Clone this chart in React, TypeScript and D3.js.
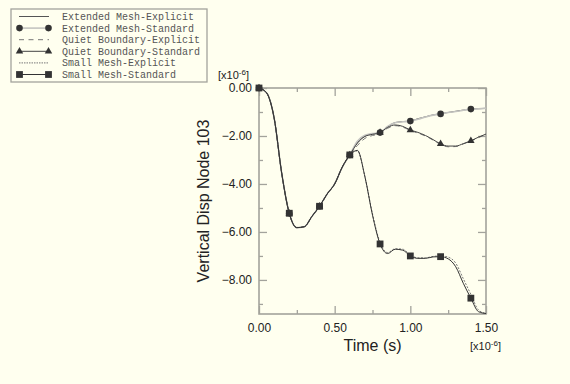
import { useEffect, useRef } from "react";
import * as d3 from "d3";

// time in units of 1e-6 s
const times = [
  0, 0.05, 0.1, 0.15, 0.2, 0.25, 0.3, 0.35, 0.4, 0.45, 0.5, 0.55, 0.6, 0.65, 0.7, 0.75,
  0.8, 0.85, 0.9, 0.95, 1.0, 1.05, 1.1, 1.15, 1.2, 1.25, 1.3, 1.35, 1.4, 1.45, 1.5,
];

// vertical displacement, units of 1e-6
const extendedExplicit = [
  0, -0.2, -1.25, -3.55, -5.22, -5.82, -5.78, -5.35, -4.93, -4.42, -4.0, -3.3, -2.79,
  -2.28, -2.0, -1.92, -1.86, -1.62, -1.44, -1.4, -1.375, -1.28, -1.2, -1.12, -1.07,
  -1.02, -0.97, -0.92, -0.875, -0.86, -0.85,
];
const extendedStandard = [
  0, -0.2, -1.25, -3.55, -5.22, -5.82, -5.78, -5.35, -4.93, -4.42, -4.0, -3.3, -2.79,
  -2.22, -1.97, -1.9, -1.86, -1.6, -1.45, -1.41, -1.38, -1.3, -1.21, -1.13, -1.08,
  -1.02, -0.98, -0.93, -0.88, -0.87, -0.84,
];
const quietExplicit = [
  0, -0.2, -1.25, -3.55, -5.22, -5.82, -5.78, -5.35, -4.93, -4.42, -4.0, -3.3, -2.79,
  -2.4, -2.1, -1.98, -1.9, -1.68, -1.57, -1.63, -1.77, -1.88, -2.0, -2.17, -2.35,
  -2.45, -2.44, -2.33, -2.22, -2.07, -1.93,
];
const quietStandard = [
  0, -0.2, -1.25, -3.55, -5.22, -5.82, -5.78, -5.35, -4.93, -4.42, -4.0, -3.3, -2.79,
  -2.3, -2.02, -1.93, -1.86, -1.64, -1.54, -1.6, -1.75, -1.85, -1.98, -2.15, -2.33,
  -2.42, -2.42, -2.32, -2.2, -2.05, -1.92,
];
const smallExplicit = [
  0, -0.2, -1.25, -3.55, -5.22, -5.82, -5.78, -5.35, -4.93, -4.42, -4.0, -3.3, -2.79,
  -2.62, -3.7, -5.25, -6.45, -6.86, -6.7, -6.72, -6.96, -7.08, -7.08, -7.02, -7.0,
  -7.05, -7.3, -7.95, -8.6, -9.25, -9.4,
];
const smallStandard = [
  0, -0.2, -1.25, -3.55, -5.22, -5.82, -5.78, -5.35, -4.93, -4.42, -4.0, -3.3, -2.79,
  -2.6, -3.7, -5.3, -6.5, -6.9, -6.72, -6.76, -7.0, -7.1, -7.1, -7.04, -7.03,
  -7.12, -7.45, -8.14, -8.76, -9.32, -9.4,
];

// markers sit on every 0.2
const markerTimes = [0, 0.2, 0.4, 0.6, 0.8, 1.0, 1.2, 1.4];

const xTicks = [0, 0.5, 1.0, 1.5];
const xMinorTicks = [0.25, 0.75, 1.25];
const yTicks = [0, -2, -4, -6, -8];
const yMinorTicks = [-1, -3, -5, -7, -9];

type Marker = "none" | "circle" | "triangle" | "square";

interface Series {
  name: string;
  values: number[];
  color: string;
  dash: string;
  marker: Marker;
}

const series: Series[] = [
  { name: "Extended Mesh-Explicit", values: extendedExplicit, color: "#555", dash: "", marker: "none" },
  { name: "Extended Mesh-Standard", values: extendedStandard, color: "#c4c4c0", dash: "", marker: "circle" },
  { name: "Quiet Boundary-Explicit", values: quietExplicit, color: "#777", dash: "5,4", marker: "none" },
  { name: "Quiet Boundary-Standard", values: quietStandard, color: "#444", dash: "", marker: "triangle" },
  { name: "Small Mesh-Explicit", values: smallExplicit, color: "#777", dash: "2,1.5", marker: "none" },
  { name: "Small Mesh-Standard", values: smallStandard, color: "#333", dash: "", marker: "square" },
];

const BG = "#ffffef";
const AXIS = "#a3a39c";
const INK = "#222";

function drawMarker(
  sel: d3.Selection<SVGGElement, unknown, null, undefined>,
  kind: Marker,
  x: number,
  y: number
) {
  if (kind === "circle") {
    sel.append("circle").attr("cx", x).attr("cy", y).attr("r", 3.3).attr("fill", "#333");
  } else if (kind === "triangle") {
    sel
      .append("path")
      .attr("d", d3.symbol(d3.symbolTriangle, 24)())
      .attr("transform", `translate(${x},${y})`)
      .attr("fill", "#333");
  } else if (kind === "square") {
    sel
      .append("rect")
      .attr("x", x - 3.4)
      .attr("y", y - 3.4)
      .attr("width", 6.8)
      .attr("height", 6.8)
      .attr("fill", "#333");
  }
}

export default function App() {
  const svgRef = useRef<SVGSVGElement>(null);

  useEffect(() => {
    if (!svgRef.current) return;
    document.body.style.margin = "0";
    document.body.style.background = BG;

    const width = 570;
    const height = 384;
    const left = 259;
    const right = 486;
    const top = 88;
    const bottom = 314;

    const svg = d3.select(svgRef.current);
    svg.selectAll("*").remove();
    svg.attr("width", width).attr("height", height);

    svg.append("rect").attr("width", width).attr("height", height).attr("fill", BG);

    const x = d3.scaleLinear().domain([0, 1.5]).range([left, right]);
    const y = d3.scaleLinear().domain([-9.42, 0]).range([bottom, top]);

    const styleAxis = (g: d3.Selection<SVGGElement, unknown, null, undefined>) => {
      g.select(".domain").remove();
      g.selectAll(".tick line").attr("stroke", AXIS).attr("stroke-width", 1.3);
      g.selectAll(".tick text")
        .attr("fill", INK)
        .style("font-size", "12px")
        .style("font-family", "'Liberation Sans', Arial, sans-serif");
    };

    // left axis
    svg
      .append("g")
      .attr("transform", `translate(${left},0)`)
      .call(d3.axisLeft(y).tickValues(yTicks).tickSize(-8).tickPadding(7).tickFormat(d3.format(".2f")))
      .call(styleAxis);
    svg
      .append("g")
      .attr("transform", `translate(${left},0)`)
      .call(d3.axisLeft(y).tickValues(yMinorTicks).tickSize(-4).tickFormat(() => ""))
      .call(styleAxis);
    // right axis
    svg
      .append("g")
      .attr("transform", `translate(${right},0)`)
      .call(d3.axisRight(y).tickValues(yTicks).tickSize(-8).tickFormat(() => ""))
      .call(styleAxis);
    svg
      .append("g")
      .attr("transform", `translate(${right},0)`)
      .call(d3.axisRight(y).tickValues(yMinorTicks).tickSize(-4).tickFormat(() => ""))
      .call(styleAxis);
    // bottom axis
    svg
      .append("g")
      .attr("transform", `translate(0,${bottom})`)
      .call(d3.axisBottom(x).tickValues(xTicks).tickSize(-8).tickPadding(9).tickFormat(d3.format(".2f")))
      .call(styleAxis);
    svg
      .append("g")
      .attr("transform", `translate(0,${bottom})`)
      .call(d3.axisBottom(x).tickValues(xMinorTicks).tickSize(-4).tickFormat(() => ""))
      .call(styleAxis);
    // top axis
    svg
      .append("g")
      .attr("transform", `translate(0,${top})`)
      .call(d3.axisTop(x).tickValues(xTicks).tickSize(-8).tickFormat(() => ""))
      .call(styleAxis);
    svg
      .append("g")
      .attr("transform", `translate(0,${top})`)
      .call(d3.axisTop(x).tickValues(xMinorTicks).tickSize(-4).tickFormat(() => ""))
      .call(styleAxis);

    // frame
    svg
      .append("rect")
      .attr("x", left)
      .attr("y", top)
      .attr("width", right - left)
      .attr("height", bottom - top)
      .attr("fill", "none")
      .attr("stroke", AXIS)
      .attr("stroke-width", 1.6);

    // curves
    const line = d3
      .line<number>()
      .x((_, i) => x(times[i]))
      .y((d) => y(d))
      .curve(d3.curveMonotoneX);

    const plot = svg.append("g");
    series.forEach((s) => {
      plot
        .append("path")
        .attr("d", line(s.values))
        .attr("fill", "none")
        .attr("stroke", s.color)
        .attr("stroke-width", s.marker === "circle" ? 1.6 : 1)
        .attr("stroke-dasharray", s.dash || null);
    });

    const marks = svg.append("g") as d3.Selection<SVGGElement, unknown, null, undefined>;
    series.forEach((s) => {
      if (s.marker === "none") return;
      markerTimes.forEach((t) => {
        const i = times.indexOf(t);
        drawMarker(marks, s.marker, x(t), y(s.values[i]));
      });
    });

    // axis titles
    const sans = "'Liberation Sans', Arial, sans-serif";
    svg
      .append("text")
      .attr("x", (left + right) / 2)
      .attr("y", 351)
      .attr("text-anchor", "middle")
      .attr("fill", INK)
      .style("font-family", sans)
      .style("font-size", "16px")
      .text("Time (s)");
    svg
      .append("text")
      .attr("transform", `translate(209,${(top + bottom) / 2}) rotate(-90)`)
      .attr("text-anchor", "middle")
      .attr("fill", INK)
      .style("font-family", sans)
      .style("font-size", "16px")
      .text("Vertical Disp Node 103");

    const scaleLabel = (lx: number, ly: number) => {
      const t = svg
        .append("text")
        .attr("x", lx)
        .attr("y", ly)
        .attr("fill", INK)
        .style("font-family", sans)
        .style("font-size", "11px");
      t.append("tspan").text("[x10");
      t.append("tspan").attr("dy", -4).style("font-size", "8px").text("-6");
      t.append("tspan").attr("dy", 4).text("]");
    };
    scaleLabel(218, 79);
    scaleLabel(470, 350);

    // legend
    const legend = svg.append("g") as d3.Selection<SVGGElement, unknown, null, undefined>;
    legend
      .append("rect")
      .attr("x", 11)
      .attr("y", 9)
      .attr("width", 196)
      .attr("height", 73)
      .attr("fill", BG)
      .attr("stroke", AXIS)
      .attr("stroke-width", 1.3);
    series.forEach((s, i) => {
      const ly = 16.5 + i * 11.6;
      legend
        .append("line")
        .attr("x1", 19)
        .attr("x2", 49)
        .attr("y1", ly)
        .attr("y2", ly)
        .attr("stroke", s.color)
        .attr("stroke-width", s.marker === "circle" ? 1.6 : 1)
        .attr("stroke-dasharray", s.dash ? (s.dash === "5,4" ? "5,4.5" : "1.5,1") : null);
      if (s.marker !== "none") {
        drawMarker(legend, s.marker, 19.5, ly);
        drawMarker(legend, s.marker, 48.5, ly);
      }
      legend
        .append("text")
        .attr("x", 62)
        .attr("y", ly)
        .attr("dy", "0.35em")
        .attr("fill", "#555")
        .style("font-family", "'Liberation Mono', 'Courier New', monospace")
        .style("font-size", "10px")
        .text(s.name);
    });
  }, []);

  return (
    <div style={{ width: 570, height: 384 }}>
      <svg ref={svgRef} style={{ display: "block" }} />
    </div>
  );
}
